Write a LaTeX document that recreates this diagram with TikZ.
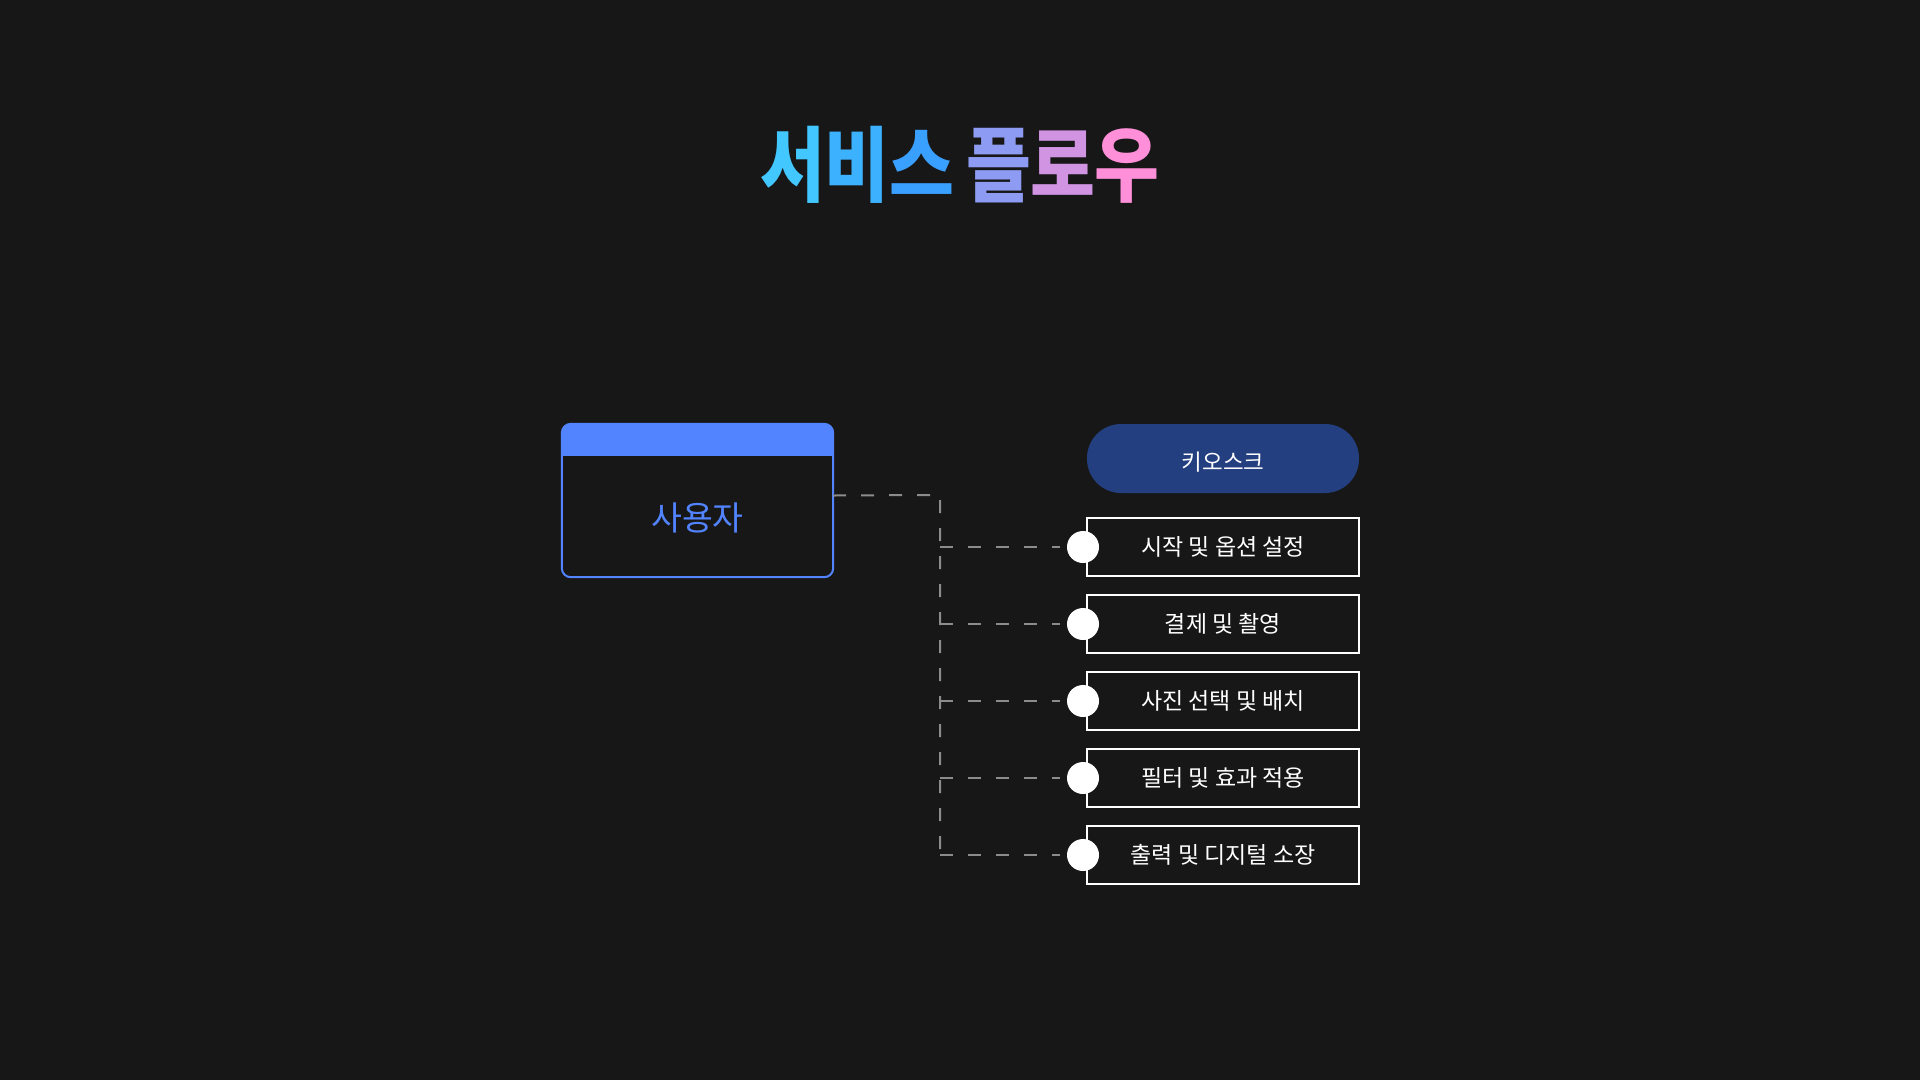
\documentclass[tikz,border=0pt]{standalone}
\usepackage{fontspec}
\setmainfont{Noto Sans CJK KR}
\newfontfamily\titlefont{Noto Sans CJK KR}[FakeStretch=0.86]
\definecolor{bg}{HTML}{171717}
\definecolor{ublue}{HTML}{5284FF}
\definecolor{dashgray}{HTML}{8C8C8C}
\definecolor{kiosk}{HTML}{243F80}
\definecolor{tA}{HTML}{42C7FF}
\definecolor{tB}{HTML}{3CB2FF}
\definecolor{tC}{HTML}{3AA0FF}
\definecolor{tD}{HTML}{8E9BF2}
\definecolor{tE}{HTML}{D094E2}
\definecolor{tF}{HTML}{FF8FD8}
\begin{document}
\begin{tikzpicture}[x=1pt,y=-1pt,
  dashline/.style={draw=dashgray,line width=2pt,dash pattern=on 13pt off 15pt},
  itembox/.style={draw=white,line width=2.5pt,fill=bg,minimum width=272pt,minimum height=58pt,inner sep=0pt,font=\fontsize{23}{27}\selectfont,text=white},
  dot/.style={circle,fill=white,minimum size=32pt,inner sep=0pt}]
\useasboundingbox (0,0) rectangle (1920,1080);
\fill[bg] (0,0) rectangle (1920,1080);
% title
\node[font=\titlefont\bfseries\fontsize{82}{90}\selectfont,inner sep=0pt] (title) at (960,165)
 {{\color{tA}서}\kern-0.5pt{\color{tB}비}\kern-0.5pt{\color{tC}스}\kern12pt{\color{tD}플}\kern-0.5pt{\color{tE}로}\kern-0.5pt{\color{tF}우}};
% user box
\node[minimum width=271pt,minimum height=153pt,inner sep=0pt] (u) at (697.5,500.5) {};
\begin{scope}
\clip[rounded corners=9pt] (u.north west) rectangle (u.south east);
\fill[ublue] (u.north west) rectangle ([yshift=-32pt]u.north east);
\end{scope}
\draw[ublue,line width=2pt,rounded corners=9pt] (u.north west) rectangle (u.south east);
\node[text=ublue,font=\fontsize{33.5}{38}\selectfont] (ut) at (697.5,518) {사용자};
% kiosk
\node[fill=kiosk,rounded corners=34pt,minimum width=272pt,minimum height=69pt,inner sep=0pt] (k) at (1223,458.5) {};
\node[text=white,font=\fontsize{22.5}{26}\selectfont] (kt) at (1223,462) {키오스크};
% items
\node[itembox] (b1) at (1223,547) {시작 및 옵션 설정};
\node[itembox] (b2) at (1223,624) {결제 및 촬영};
\node[itembox] (b3) at (1223,701) {사진 선택 및 배치};
\node[itembox] (b4) at (1223,778) {필터 및 효과 적용};
\node[itembox] (b5) at (1223,855) {출력 및 디지털 소장};
\node[dot] (c1) at (1083,547) {};
\node[dot] (c2) at (1083,624) {};
\node[dot] (c3) at (1083,701) {};
\node[dot] (c4) at (1083,778) {};
\node[dot] (c5) at (1083,855) {};
% connectors
\coordinate (tr) at (940,495);
\coordinate (j1) at (940,547);
\coordinate (j2) at (940,624);
\coordinate (j3) at (940,701);
\coordinate (j4) at (940,778);
\coordinate (j5) at (940,855);
\draw[dashline] ([yshift=5pt]u.east) -- (tr) -- (j5);
\foreach \i in {1,2,3,4,5} {\draw[dashline,shorten >=7pt] (j\i) -- (c\i.west);}
\end{tikzpicture}
\end{document}
